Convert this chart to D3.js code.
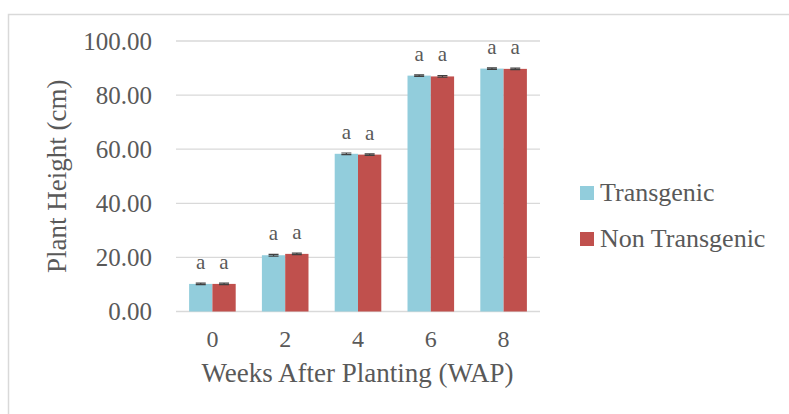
<!DOCTYPE html>
<html>
<head>
<meta charset="utf-8">
<script src="https://cdn.jsdelivr.net/npm/d3@7"></script>
<style>
  html, body { margin: 0; padding: 0; background: #fff; }
  svg { display: block; }
</style>
</head>
<body>
<svg id="chart" width="789" height="414"></svg>
<script>
// Plant height (cm) by weeks after planting
const weeks = ["0", "2", "4", "6", "8"];
const seriesNames = ["Transgenic", "Non Transgenic"];
const transgenic = [10.2, 20.8, 58.3, 87.2, 89.8];
const nonTransgenic = [10.2, 21.3, 58.0, 86.9, 89.7];
const transgenicErr = [0.3, 0.3, 0.3, 0.3, 0.3];
const nonTransgenicErr = [0.3, 0.3, 0.3, 0.3, 0.3];
const transgenicLetters = ["a", "a", "a", "a", "a"];
const nonTransgenicLetters = ["a", "a", "a", "a", "a"];
const yTicks = [0, 20, 40, 60, 80, 100];
const colors = ["#92CDDC", "#C0504D"];

const FONT = "'Liberation Serif', Tinos, 'Times New Roman', 'DejaVu Serif', 'Noto Serif', serif";
const TEXT = "#595959";

const svg = d3.select("#chart");
const margin = { left: 176, right: 250, top: 41, bottom: 103 };
const W = 789, H = 414;

// outer chart frame
svg.append("rect")
  .attr("x", 8.5).attr("y", 14.5)
  .attr("width", 820).attr("height", 440)
  .attr("fill", "none").attr("stroke", "#d9d9d9").attr("stroke-width", 1.5);

const x0 = d3.scaleBand().domain(weeks)
  .range([margin.left, W - margin.right + 1])
  .paddingInner(0.36).paddingOuter(0.18);
const x1 = d3.scaleBand().domain(seriesNames).range([0, x0.bandwidth()]);
const y = d3.scaleLinear().domain([0, 100]).range([H - margin.bottom + 0.5, margin.top]);

// gridlines
svg.append("g").selectAll("line").data(yTicks).join("line")
  .attr("x1", margin.left).attr("x2", W - margin.right + 1)
  .attr("y1", d => y(d)).attr("y2", d => y(d))
  .attr("stroke", "#d9d9d9").attr("stroke-width", 1.3);

// y axis labels
const yAxis = d3.axisLeft(y).tickValues(yTicks).tickFormat(d3.format(".2f")).tickSize(0).tickPadding(24);
const gy = svg.append("g").attr("transform", `translate(${margin.left},0)`).call(yAxis)
  .attr("font-family", null).attr("font-size", null);
gy.select(".domain").remove();
gy.selectAll("text").style("font-size", "25px").style("font-family", FONT).style("fill", TEXT);

// x axis labels
const xAxis = d3.axisBottom(x0).tickSize(0).tickPadding(18);
const gx = svg.append("g").attr("transform", `translate(0,${y(0)})`).call(xAxis)
  .attr("font-family", null).attr("font-size", null);
gx.select(".domain").remove();
gx.selectAll("text").style("font-size", "24px").style("font-family", FONT).style("fill", TEXT);

const rows = weeks.map((w, i) => ({
  week: w,
  items: [
    { s: seriesNames[0], v: transgenic[i], e: transgenicErr[i], l: transgenicLetters[i], c: colors[0] },
    { s: seriesNames[1], v: nonTransgenic[i], e: nonTransgenicErr[i], l: nonTransgenicLetters[i], c: colors[1] }
  ]
}));

const groups = svg.append("g").selectAll("g").data(rows).join("g")
  .attr("transform", d => `translate(${x0(d.week)},0)`);

groups.selectAll("rect").data(d => d.items).join("rect")
  .attr("x", d => x1(d.s)).attr("width", x1.bandwidth())
  .attr("y", d => y(d.v)).attr("height", d => y(0) - y(d.v))
  .attr("fill", d => d.c);

// error bars
const cap = 5;
groups.selectAll("path.err").data(d => d.items).join("path")
  .attr("class", "err")
  .attr("d", d => {
    const cx = x1(d.s) + x1.bandwidth() / 2;
    const t = y(d.v + d.e), b = y(d.v - d.e);
    return `M${cx - cap},${t}H${cx + cap}M${cx},${t}V${b}M${cx - cap},${b}H${cx + cap}`;
  })
  .attr("stroke", "#404040").attr("stroke-width", 1.2).attr("fill", "none");

// significance letters
groups.selectAll("text.sig").data(d => d.items).join("text")
  .attr("class", "sig")
  .attr("x", d => x1(d.s) + x1.bandwidth() / 2)
  .attr("y", d => y(d.v) - 15)
  .attr("text-anchor", "middle")
  .style("font-family", FONT).style("fill", TEXT).style("font-size", "21px")
  .text(d => d.l);

// axis titles
svg.append("text")
  .attr("x", (margin.left + W - margin.right) / 2).attr("y", 382)
  .attr("text-anchor", "middle")
  .style("font-family", FONT).style("fill", TEXT).style("font-size", "27px")
  .text("Weeks After Planting (WAP)");

svg.append("text")
  .attr("transform", `translate(66,${(y(0) + y(100)) / 2}) rotate(-90)`)
  .attr("text-anchor", "middle")
  .style("font-family", FONT).style("fill", TEXT).style("font-size", "27px")
  .text("Plant Height (cm)");

// legend
const legend = svg.append("g").selectAll("g").data(seriesNames).join("g")
  .attr("transform", (d, i) => `translate(580,${186 + i * 46})`);
legend.append("rect").attr("width", 14).attr("height", 14)
  .attr("fill", (d, i) => colors[i]);
legend.append("text").attr("x", 20).attr("y", 15)
  .style("font-family", FONT).style("fill", TEXT).style("font-size", "26px")
  .text(d => d);
</script>
</body>
</html>
